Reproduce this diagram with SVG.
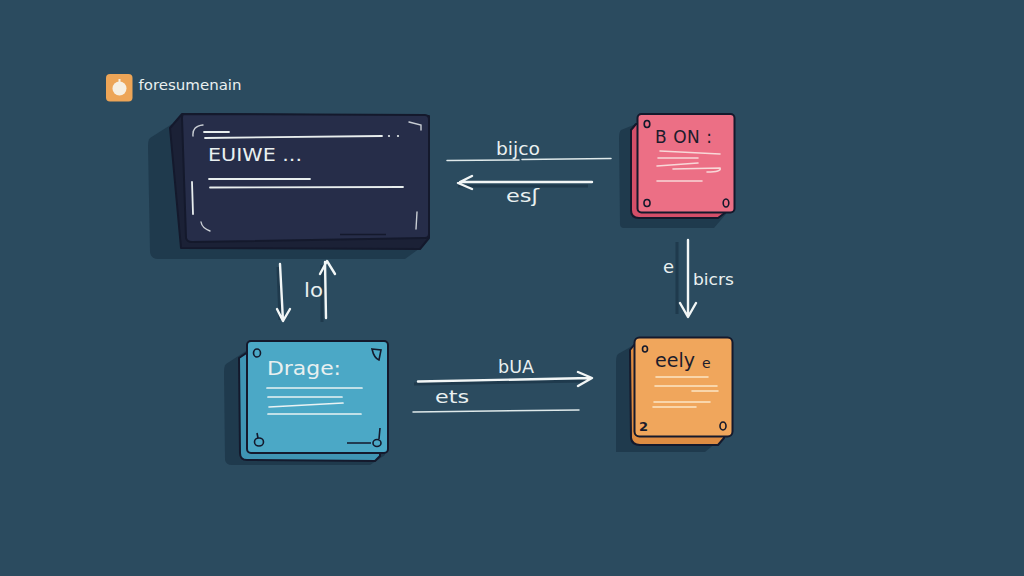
<svg xmlns="http://www.w3.org/2000/svg" width="1024" height="576" viewBox="0 0 1024 576">
<style>
.t{font-family:"DejaVu Sans","Liberation Sans",sans-serif;fill:#e9f0f0}
.d{font-family:"DejaVu Sans","Liberation Sans",sans-serif;fill:#1c1c2c}
.l{fill:none;stroke:#e8eeee;stroke-width:1.800;stroke-linecap:round}
.a{fill:none;stroke:#f2f6f6;stroke-width:2.400;stroke-linecap:round;stroke-linejoin:round}
.thin{fill:none;stroke:#dfe9ea;stroke-width:1.500;stroke-linecap:round}
.sh{fill:none;stroke:#1f3a4d;stroke-width:3}
.s{fill:#1f3a4d}
.h{fill:none;stroke:#14192c;stroke-width:1.600}
.o{stroke:#14192c;stroke-width:2;stroke-linejoin:round}
</style>
<rect width="1024" height="576" fill="#2b4b5f"/>

<g id="logo">
<rect x="106" y="74" width="26.500" height="27.500" rx="4" fill="#eda557"/>
<circle cx="119.500" cy="88.500" r="7" fill="#f6efe2"/>
<rect x="118.500" y="79" width="2" height="4" fill="#f6efe2"/>
<text class="t" x="138.500" y="90" font-size="14" textLength="103" lengthAdjust="spacingAndGlyphs">foresumenain</text>
</g>

<g id="node-main">
<path class="s" d="M172 124L150 138Q148 140 148 146L150 252Q151 259 158 259L405 259L423 246L423 124Z"/>
<path class="o" d="M182 114L170 128L181 248L420 249L429 238L429 116Z" fill="#1b2136"/>
<path class="o" d="M184 114L425 115Q429 115 429 120L429 234Q429 238 425 238L192 242Q187 242 186 238L182 118Q182 114 184 114Z" fill="#262d49"/>
<path class="l" d="M204 132L229 132M205 138L382 136"/>
<path class="l" d="M209 179L310 179M210 187.500L403 187"/>
<path class="l" d="M192 182L193 214"/>
<path d="M193 136Q192 126 203 125M201 222Q202 228 210 231M409 122L421 125L421 130M417 212L416 229" fill="none" stroke="#c9ced4" stroke-width="1.400" stroke-linecap="round"/>
<path d="M340 234.500L386 234.500" fill="none" stroke="#14192c" stroke-width="1.500"/>
<circle cx="389" cy="136" r="1.100" fill="#e8eeee"/><circle cx="398" cy="136" r="1.100" fill="#e8eeee"/>
<text class="t" x="208" y="161" font-size="18" textLength="94" lengthAdjust="spacingAndGlyphs">EUIWE ...</text>
</g>

<g id="node-pink">
<path class="s" d="M636 124L621 130Q619 132 619 138L620 224Q620 228 624 228L714 228L726 214L726 124Z"/>
<path class="o" d="M636 124L631 130L631 210Q631 218 639 218L718 218L726 212L726 124Z" fill="#d44f69"/>
<rect class="o" x="637.500" y="114" width="97" height="98.500" rx="4" fill="#ec6f85"/>
<ellipse cx="647" cy="124" rx="2.800" ry="3.500" class="h"/><ellipse cx="647" cy="203" rx="3" ry="3.500" class="h"/><ellipse cx="726" cy="203" rx="2.800" ry="4" class="h"/>
<path d="M660 151L720 154M658 158L698 158M657 166L698 163M673 169L720 168Q722 172 707 172M657 181L702 181" fill="none" stroke="#f8d8d8" stroke-width="1.600" stroke-linecap="round"/>
<text class="d" x="655" y="143" font-size="17" textLength="57">B ON :</text>
</g>

<g id="node-blue">
<path class="s" d="M246 351L226 364Q224 366 224 372L225 460Q226 465 232 465L370 465L385 455L385 351Z"/>
<path class="o" d="M248 352L239 358L240 453Q240 460 247 460L375 461L380 456L380 352Z" fill="#3f95b4"/>
<rect class="o" x="247" y="341" width="141" height="112" rx="4" fill="#4ba8c6"/>
<ellipse cx="257" cy="353" rx="3.500" ry="4" class="h"/><path class="h" d="M372 349L381 350L379 360Q374 358 372 349Z"/>
<ellipse cx="259" cy="442" rx="4.500" ry="4" class="h"/><ellipse cx="377" cy="443" rx="4" ry="3.500" class="h"/>
<path class="h" d="M347 443L371 443M379 439L380 428M258 438L257 433"/>
<path d="M267 388L362 388M268 397L342 397M269 407L343 403M268 414L361 414" fill="none" stroke="#e9f2f3" stroke-width="1.700" stroke-linecap="round"/>
<text class="t" x="267" y="375" font-size="20" textLength="74" lengthAdjust="spacingAndGlyphs">Drage:</text>
</g>

<g id="node-orange">
<path class="s" d="M634 345L618 354Q616 356 616 362L616 452L705 452L722 438L722 345Z"/>
<path class="o" d="M634 345L630 350L631 438Q632 445 640 445L718 445L724 438L724 345Z" fill="#de8c42"/>
<rect class="o" x="634.500" y="337.500" width="98" height="99" rx="5" fill="#f0a65c"/>
<ellipse cx="645" cy="349" rx="2.500" ry="3" class="h"/><ellipse cx="723" cy="426" rx="3" ry="4" class="h"/>
<path d="M656 377L708 377M655 386L717 386M692 391L718 391M654 402L710 402M653 407L696 407" fill="none" stroke="#fbe6c5" stroke-width="1.600" stroke-linecap="round"/>
<text class="d" x="655" y="367" font-size="19" textLength="40" lengthAdjust="spacingAndGlyphs">eely</text>
<text class="d" x="702" y="368" font-size="14">e</text>
<text class="d" x="639" y="431" font-size="13" font-weight="bold">2</text>
</g>

<g id="connectors">
<path class="sh" d="M278 267L280 320M322 265L322 322M677 242L677 314M458 186L588 186M414 384L585 381"/>
<path class="thin" d="M447 160.500L519 160M522 159.500L611 158.500"/>
<path class="a" d="M592 182L460 182M472 176L458 183L472 189"/>
<path class="a" d="M688 240L688 316M680 303L688 317L696 303"/>
<path class="a" d="M280 264L283 321M277 309L283 321L290 309"/>
<path class="a" d="M326 318L325 262M320 274L327 261L335 274"/>
<path class="a" d="M418 381.500L591 378M578 372L592 378L578 386"/>
<path class="thin" d="M413 412L579 410"/>
</g>

<g id="labels">
<text class="t" x="496" y="155" font-size="17" textLength="44" lengthAdjust="spacingAndGlyphs">bijco</text>
<text class="t" x="506" y="202" font-size="17" textLength="33" lengthAdjust="spacingAndGlyphs">esʃ</text>
<text class="t" x="663" y="273" font-size="18">e</text>
<text class="t" x="693" y="285" font-size="15" textLength="41" lengthAdjust="spacingAndGlyphs">bicrs</text>
<text class="t" x="304" y="297" font-size="19" textLength="19" lengthAdjust="spacingAndGlyphs">lo</text>
<text class="t" x="498" y="373" font-size="17" textLength="36" lengthAdjust="spacingAndGlyphs">bUA</text>
<text class="t" x="435" y="403" font-size="17" textLength="34" lengthAdjust="spacingAndGlyphs">ets</text>
</g>
</svg>
